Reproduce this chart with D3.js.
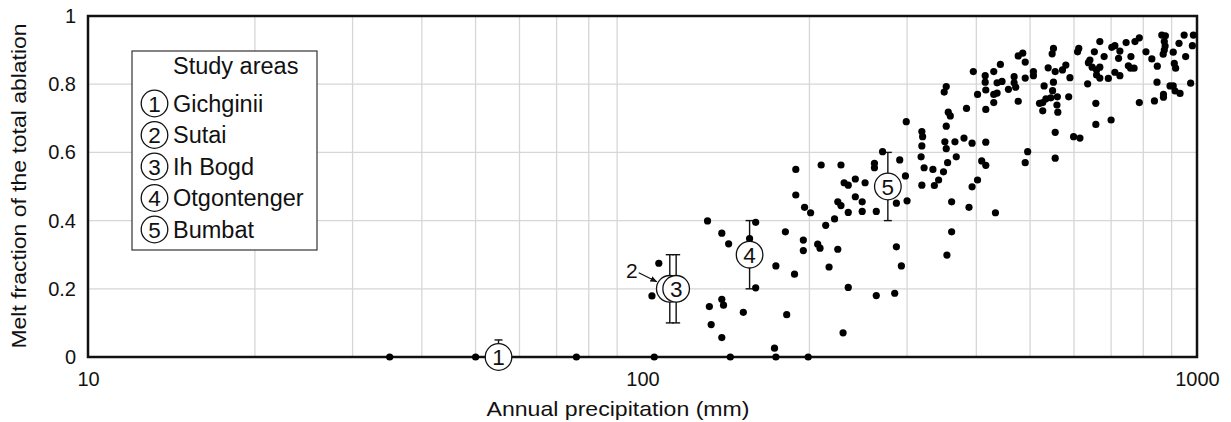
<!DOCTYPE html>
<html>
<head>
<meta charset="utf-8">
<script src="https://cdn.jsdelivr.net/npm/d3@7"></script>
<style>
  html, body { margin: 0; padding: 0; background: #fff; }
  svg { display: block; font-family: "Liberation Sans", Arial, Helvetica, sans-serif; }
</style>
</head>
<body>
<svg id="chart" width="1231" height="422"></svg>
<script>
// ---------- data ----------
const precipitation = [
  35, 50, 76, 105, 144, 174, 199,
  131, 139, 143, 160, 156, 160, 107, 104, 132, 139, 140, 133, 139, 152, 173,
  189, 189, 196, 201, 210, 228, 262, 262, 271, 291, 298, 300, 287, 231, 235, 242, 252,
  225, 228, 242, 249, 235, 249, 264, 222, 214, 181, 195, 195, 207, 209, 225, 174, 188,
  217, 287, 293, 235, 264, 285, 182, 230,
  299, 319, 320, 319, 318, 322, 334, 319, 336, 342, 349, 355, 368, 350, 353, 356, 359,
  353, 351, 353, 366, 380, 393, 416, 384, 395, 361, 388, 361, 354, 393, 402, 409, 416,
  433, 402, 416, 415, 415, 416, 430, 442, 430, 430, 436, 436, 445, 457, 468, 468, 471,
  490, 507, 507, 490, 476, 520, 495, 490, 476, 485,
  551, 548, 539, 555, 572, 580, 590, 530, 551, 549, 534, 527, 545, 560, 559, 527, 561,
  587, 555, 555, 599, 615, 612, 609, 653, 668, 641, 637, 680, 647, 659, 668, 659, 668,
  692, 635, 657, 657, 700, 702, 711, 722, 711, 726, 726, 745, 773, 787, 760, 752, 759,
  770, 809, 829, 848, 864, 877, 873, 876, 873, 869, 906, 928, 948, 985, 981, 954, 910,
  915, 847, 894, 906, 913, 932, 870, 870, 838, 787, 974
];
const meltFraction = [
  0, 0, 0, 0, 0, 0, 0,
  0.399, 0.363, 0.332, 0.395, 0.347, 0.203, 0.275, 0.179, 0.148, 0.169, 0.152, 0.095, 0.057, 0.131, 0.026,
  0.550, 0.475, 0.439, 0.423, 0.563, 0.563, 0.568, 0.555, 0.602, 0.578, 0.531, 0.458, 0.451, 0.511, 0.504, 0.522, 0.511,
  0.455, 0.444, 0.470, 0.455, 0.424, 0.427, 0.427, 0.405, 0.386, 0.367, 0.343, 0.312, 0.331, 0.319, 0.316, 0.267, 0.243,
  0.264, 0.323, 0.267, 0.204, 0.180, 0.187, 0.124, 0.071,
  0.690, 0.661, 0.646, 0.619, 0.587, 0.555, 0.550, 0.504, 0.503, 0.519, 0.543, 0.570, 0.587, 0.777, 0.793, 0.718, 0.707,
  0.677, 0.631, 0.611, 0.631, 0.642, 0.627, 0.630, 0.729, 0.837, 0.455, 0.439, 0.367, 0.299, 0.499, 0.519, 0.575, 0.562,
  0.423, 0.770, 0.726, 0.825, 0.806, 0.783, 0.837, 0.858, 0.746, 0.770, 0.774, 0.804, 0.808, 0.785, 0.822, 0.804, 0.791,
  0.818, 0.837, 0.825, 0.865, 0.750, 0.744, 0.602, 0.570, 0.883, 0.891,
  0.905, 0.889, 0.848, 0.837, 0.842, 0.856, 0.819, 0.795, 0.806, 0.781, 0.757, 0.746, 0.760, 0.763, 0.739, 0.722, 0.718,
  0.763, 0.659, 0.583, 0.646, 0.642, 0.905, 0.895, 0.895, 0.925, 0.871, 0.863, 0.881, 0.850, 0.842, 0.850, 0.827, 0.818,
  0.817, 0.801, 0.744, 0.682, 0.695, 0.908, 0.913, 0.876, 0.835, 0.825, 0.897, 0.922, 0.925, 0.936, 0.881, 0.854, 0.847,
  0.847, 0.895, 0.874, 0.853, 0.944, 0.942, 0.925, 0.912, 0.900, 0.888, 0.894, 0.920, 0.944, 0.944, 0.913, 0.881, 0.861,
  0.847, 0.806, 0.795, 0.795, 0.780, 0.773, 0.770, 0.762, 0.751, 0.746, 0.803
];

const areaIds = ["1", "2", "3", "4", "5"];
const areaNames = ["Gichginii", "Sutai", "Ih Bogd", "Otgontenger", "Bumbat"];
const areaPrecip = [55, 112, 115, 156, 277];
const areaMelt = [0, 0.2, 0.2, 0.3, 0.5];
const areaLow = [0, 0.1, 0.1, 0.2, 0.4];
const areaHigh = [0.05, 0.3, 0.3, 0.4, 0.6];

const xTickValues = [10, 100, 1000];
const xTickLabels = ["10", "100", "1000"];
const yTickValues = [0, 0.2, 0.4, 0.6, 0.8, 1];
const yTickLabels = ["0", "0.2", "0.4", "0.6", "0.8", "1"];
const xGridValues = [20, 30, 40, 50, 60, 70, 80, 90, 200, 300, 400, 500, 600, 700, 800, 900];
const yGridValues = [0.2, 0.4, 0.6, 0.8];

const xTitle = "Annual precipitation (mm)";
const yTitle = "Melt fraction of the total ablation";
const legendTitle = "Study areas";

// ---------- layout ----------
const svg = d3.select("#chart");
const pL = 88, pR = 1197, pT = 16, pB = 357;
const x = d3.scaleLog().domain([10, 1000]).range([pL, pR]);
const y = d3.scaleLinear().domain([0, 1]).range([pB, pT]);

// grid
const grid = svg.append("g").attr("stroke", "#d6d6d6").attr("stroke-width", 1.3);
grid.selectAll(".vg").data(xGridValues).join("line")
  .attr("x1", d => x(d)).attr("x2", d => x(d)).attr("y1", pT).attr("y2", pB);
grid.selectAll(".hg").data(yGridValues).join("line")
  .attr("x1", pL).attr("x2", pR).attr("y1", d => y(d)).attr("y2", d => y(d));

// axes (labels only)
const yAxis = svg.append("g").attr("transform", `translate(${pL},0)`)
  .call(d3.axisLeft(y).tickValues(yTickValues).tickSize(0).tickPadding(12)
    .tickFormat((d, i) => yTickLabels[i]));
yAxis.select(".domain").remove();
yAxis.selectAll("text").attr("font-size", 20).attr("fill", "#111")
  .attr("font-family", '"Liberation Sans", Arial, sans-serif');

const xAxis = svg.append("g").attr("transform", `translate(0,${pB})`)
  .call(d3.axisBottom(x).tickValues(xTickValues).tickSize(0).tickPadding(15)
    .tickFormat((d, i) => xTickLabels[i]));
xAxis.select(".domain").remove();
xAxis.selectAll("text").attr("font-size", 20).attr("fill", "#111")
  .attr("font-family", '"Liberation Sans", Arial, sans-serif');

// frame
svg.append("rect").attr("x", pL).attr("y", pT)
  .attr("width", pR - pL).attr("height", pB - pT)
  .attr("fill", "none").attr("stroke", "#111").attr("stroke-width", 2.5);

// titles
svg.append("text").attr("x", 618).attr("y", 416).attr("text-anchor", "middle")
  .attr("font-size", 21).attr("fill", "#111")
  .attr("textLength", 263).attr("lengthAdjust", "spacingAndGlyphs").text(xTitle);
svg.append("text").attr("transform", "translate(26,186) rotate(-90)")
  .attr("text-anchor", "middle").attr("font-size", 21).attr("fill", "#111")
  .attr("textLength", 325).attr("lengthAdjust", "spacingAndGlyphs").text(yTitle);

// error bars for study areas
const eb = svg.append("g").attr("stroke", "#111").attr("stroke-width", 1.4);
const capHalf = 4;
areaIds.forEach((id, i) => {
  const cx = x(areaPrecip[i]);
  eb.append("line").attr("x1", cx).attr("x2", cx)
    .attr("y1", y(areaLow[i])).attr("y2", y(areaHigh[i]));
  eb.append("line").attr("x1", cx - capHalf).attr("x2", cx + capHalf)
    .attr("y1", y(areaHigh[i])).attr("y2", y(areaHigh[i]));
  eb.append("line").attr("x1", cx - capHalf).attr("x2", cx + capHalf)
    .attr("y1", y(areaLow[i])).attr("y2", y(areaLow[i]));
});

// scatter points
svg.append("g").selectAll("circle").data(precipitation).join("circle")
  .attr("cx", d => x(d)).attr("cy", (d, i) => y(meltFraction[i]))
  .attr("r", 3.6).attr("fill", "#000");

// study area circles
const ac = svg.append("g");
areaIds.forEach((id, i) => {
  const cx = x(areaPrecip[i]), cy = y(areaMelt[i]);
  ac.append("circle").attr("cx", cx).attr("cy", cy).attr("r", 13.3)
    .attr("fill", "#fff").attr("stroke", "#111").attr("stroke-width", 1.3);
  if (id !== "2") {
    ac.append("text").attr("x", cx).attr("y", cy + 8).attr("text-anchor", "middle")
      .attr("font-size", 22.5).attr("fill", "#111").text(id);
  }
});

// label "2" with arrow pointing at Sutai circle
const defs = svg.append("defs");
defs.append("marker").attr("id", "arr").attr("viewBox", "0 0 10 10")
  .attr("refX", 9).attr("refY", 5).attr("markerWidth", 6).attr("markerHeight", 6)
  .attr("orient", "auto").append("path").attr("d", "M0,1 L10,5 L0,9 Z").attr("fill", "#111");
const s2x = x(areaPrecip[1]), s2y = y(areaMelt[1]);
svg.append("text").attr("x", s2x - 38).attr("y", s2y - 11).attr("text-anchor", "middle")
  .attr("font-size", 21).attr("fill", "#111").text(areaIds[1]);
svg.append("line").attr("x1", s2x - 31).attr("y1", s2y - 16)
  .attr("x2", s2x - 13).attr("y2", s2y - 7)
  .attr("stroke", "#111").attr("stroke-width", 1.2).attr("marker-end", "url(#arr)");

// legend
const lg = svg.append("g");
lg.append("rect").attr("x", 132).attr("y", 51).attr("width", 185).attr("height", 199)
  .attr("fill", "#fff").attr("stroke", "#333").attr("stroke-width", 1.2);
lg.append("text").attr("x", 173).attr("y", 74).attr("font-size", 23.5).attr("fill", "#111")
  .text(legendTitle);
areaIds.forEach((id, i) => {
  const cy = 103.5 + i * 31.5;
  lg.append("circle").attr("cx", 154.5).attr("cy", cy).attr("r", 13.3)
    .attr("fill", "#fff").attr("stroke", "#111").attr("stroke-width", 1.3);
  lg.append("text").attr("x", 154.5).attr("y", cy + 8).attr("text-anchor", "middle")
    .attr("font-size", 22.5).attr("fill", "#111").text(id);
  lg.append("text").attr("x", 173).attr("y", cy + 8).attr("font-size", 23.5)
    .attr("fill", "#111").text(areaNames[i]);
});
</script>
</body>
</html>
